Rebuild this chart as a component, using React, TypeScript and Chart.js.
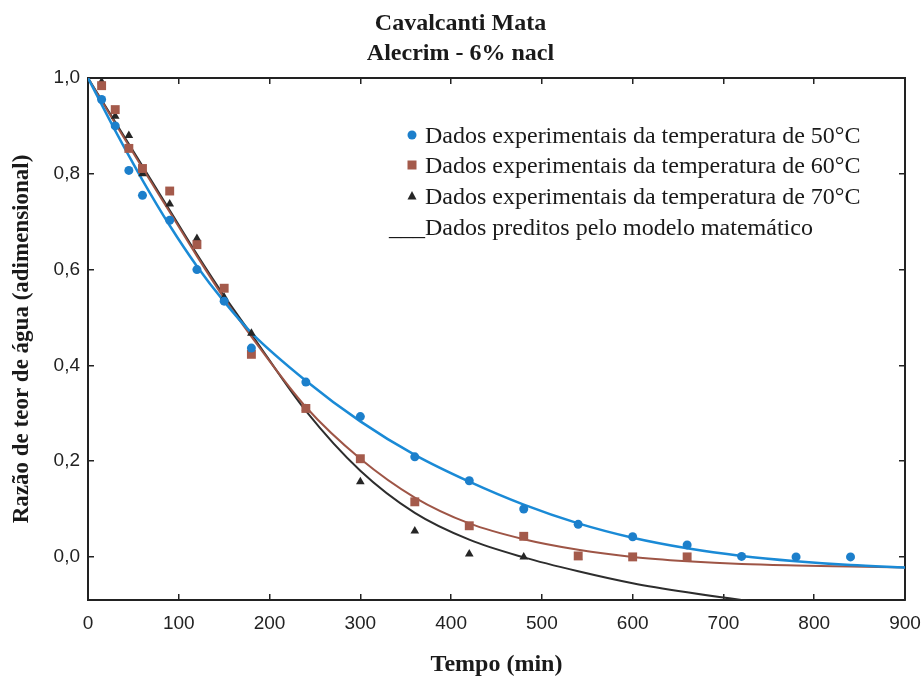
import React, { useEffect, useRef } from 'react';
import { Chart, registerables } from 'chart.js';

Chart.register(...registerables);

// ---- Data ----
const titleLines = ['Cavalcanti Mata', 'Alecrim - 6% nacl'];
const xAxisTitle = 'Tempo (min)';
const yAxisTitle = 'Razão de teor de água (adimensional)';

const seriesLabels = [
  'Dados experimentais da temperatura de 50°C',
  'Dados experimentais da temperatura de 60°C',
  'Dados experimentais da temperatura de 70°C',
  'Dados preditos pelo modelo matemático',
];

const times50 = [15, 30, 45, 60, 90, 120, 150, 180, 240, 300, 360, 420, 480, 540, 600, 660, 720, 780, 840];
const exp50 = [0.955, 0.9, 0.807, 0.755, 0.703, 0.6, 0.534, 0.436, 0.365, 0.293, 0.209, 0.159, 0.1, 0.068, 0.042, 0.025, 0.001, 0.0, 0.0];

const times60 = [15, 30, 45, 60, 90, 120, 150, 180, 240, 300, 360, 420, 480, 540, 600, 660];
const exp60 = [0.984, 0.934, 0.853, 0.811, 0.764, 0.652, 0.561, 0.423, 0.31, 0.205, 0.115, 0.065, 0.043, 0.002, 0.0, 0.0];

const times70 = [15, 30, 45, 60, 90, 120, 150, 180, 240, 300, 360, 420, 480, 540];
const exp70 = [0.992, 0.92, 0.88, 0.8, 0.737, 0.665, 0.542, 0.467, 0.31, 0.157, 0.054, 0.006, 0.0, 0.0];

const modelTimes = [0, 30, 60, 90, 120, 150, 180, 240, 300, 360, 420, 480, 540, 600, 660, 720, 780, 840, 900];
const model50 = [1.0, 0.89, 0.787, 0.692, 0.607, 0.533, 0.468, 0.368, 0.283, 0.213, 0.157, 0.109, 0.07, 0.04, 0.018, 0.002, -0.009, -0.017, -0.022];
const model60 = [1.0, 0.905, 0.812, 0.72, 0.628, 0.54, 0.46, 0.313, 0.205, 0.124, 0.07, 0.037, 0.015, 0.0, -0.009, -0.015, -0.018, -0.02, -0.022];
const model70 = [1.0, 0.908, 0.816, 0.724, 0.632, 0.545, 0.465, 0.305, 0.18, 0.092, 0.036, -0.001, -0.03, -0.055, -0.074, -0.09, -0.102, -0.11, -0.116];

const xTickValues = [0, 100, 200, 300, 400, 500, 600, 700, 800, 900];
const yTickValues = [0.0, 0.2, 0.4, 0.6, 0.8, 1.0];
const xMin = 0;
const xMax = 900;
const yMin = -0.09;
const yMax = 1.0;

// ---- Styles ----
const blue = '#1c7fcb';
const blueLine = '#1a8ad6';
const brown = '#a45a4b';
const brownLine = '#9e5546';
const black = '#262626';
const axisColor = '#222222';
const serif = '"Liberation Serif", "Times New Roman", serif';
const sans = '"Liberation Sans", Arial, sans-serif';

const pts = (xs: number[], ys: number[]) => xs.map((x, i) => ({ x, y: ys[i] }));

const legendPlugin = {
  id: 'paperLegend',
  afterDraw(chart: any) {
    const ctx = chart.ctx as CanvasRenderingContext2D;
    ctx.save();
    const markerX = 412;
    const textX = 425;
    const baselines = [143, 173, 204, 235];
    ctx.font = `24px ${serif}`;
    ctx.fillStyle = '#1a1a1a';
    ctx.textAlign = 'left';
    ctx.textBaseline = 'alphabetic';
    for (let i = 0; i < 3; i++) ctx.fillText(seriesLabels[i], textX, baselines[i]);
    ctx.fillText('___' + seriesLabels[3], 389, baselines[3]);

    // markers
    const c0 = baselines[0] - 8;
    ctx.fillStyle = blue;
    ctx.beginPath();
    ctx.arc(markerX, c0, 4.5, 0, Math.PI * 2);
    ctx.fill();

    const c1 = baselines[1] - 8;
    ctx.fillStyle = brown;
    ctx.fillRect(markerX - 4.5, c1 - 4.5, 9, 9);

    const c2 = baselines[2] - 8;
    ctx.fillStyle = black;
    ctx.beginPath();
    ctx.moveTo(markerX, c2 - 5);
    ctx.lineTo(markerX + 4.5, c2 + 3.5);
    ctx.lineTo(markerX - 4.5, c2 + 3.5);
    ctx.closePath();
    ctx.fill();
    ctx.restore();
  },
};

const setTicks = (values: number[]) => (scale: any) => {
  scale.ticks = values.map((v) => ({ value: v }));
};

export default function App() {
  const canvasRef = useRef<HTMLCanvasElement | null>(null);

  useEffect(() => {
    if (!canvasRef.current) return;
    const chart = new Chart(canvasRef.current, {
      type: 'scatter',
      data: {
        datasets: [
          {
            type: 'scatter',
            label: seriesLabels[0],
            data: pts(times50, exp50),
            pointStyle: 'circle',
            pointRadius: 4.5,
            backgroundColor: blue,
            borderColor: blue,
            borderWidth: 0,
          },
          {
            type: 'scatter',
            label: seriesLabels[1],
            data: pts(times60, exp60),
            pointStyle: 'rect',
            pointRadius: 6.3,
            backgroundColor: brown,
            borderColor: brown,
            borderWidth: 0,
          },
          {
            type: 'scatter',
            label: seriesLabels[2],
            data: pts(times70, exp70),
            pointStyle: 'triangle',
            pointRadius: 5,
            backgroundColor: black,
            borderColor: black,
            borderWidth: 0,
          },
          {
            type: 'line',
            label: seriesLabels[3] + ' 50°C',
            data: pts(modelTimes, model50),
            borderColor: blueLine,
            borderWidth: 2.5,
            pointRadius: 0,
            cubicInterpolationMode: 'monotone',
            fill: false,
          },
          {
            type: 'line',
            label: seriesLabels[3] + ' 60°C',
            data: pts(modelTimes, model60),
            borderColor: brownLine,
            borderWidth: 2,
            pointRadius: 0,
            cubicInterpolationMode: 'monotone',
            fill: false,
          },
          {
            type: 'line',
            label: seriesLabels[3] + ' 70°C',
            data: pts(modelTimes, model70),
            borderColor: '#2d2d2d',
            borderWidth: 2,
            pointRadius: 0,
            cubicInterpolationMode: 'monotone',
            fill: false,
          },
        ],
      },
      options: {
        responsive: false,
        animation: false,
        devicePixelRatio: 1,
        layout: { padding: { left: 0, right: 0, top: 0, bottom: 0 } },
        plugins: {
          legend: { display: false },
          tooltip: { enabled: false },
          title: {
            display: true,
            text: titleLines,
            color: '#1a1a1a',
            font: { family: serif, size: 24, weight: 'bold', lineHeight: 1.25 },
            padding: { top: 9, bottom: 9 },
          },
        },
        scales: {
          x: {
            type: 'linear',
            position: 'bottom',
            min: xMin,
            max: xMax,
            afterBuildTicks: setTicks(xTickValues),
            afterFit: (s: any) => {
              s.height = 82;
              s.paddingRight = 16;
              s.paddingLeft = 5;
            },
            grid: { drawOnChartArea: false, drawTicks: true, tickLength: -6, color: axisColor, lineWidth: 1.5 },
            border: { display: true, color: axisColor, width: 2 },
            ticks: {
              color: '#222',
              font: { family: sans, size: 19 },
              padding: 18,
              maxRotation: 0,
              autoSkip: false,
              callback: (v: any) => String(v),
            },
            title: {
              display: true,
              text: xAxisTitle,
              color: '#1a1a1a',
              font: { family: serif, size: 24, weight: 'bold' },
              padding: { top: 0, bottom: 3 },
            },
          },
          x2: {
            type: 'linear',
            position: 'top',
            min: xMin,
            max: xMax,
            afterBuildTicks: setTicks(xTickValues),
            afterFit: (s: any) => {
              s.height = 0;
              s.paddingRight = 0;
              s.paddingLeft = 0;
            },
            grid: { drawOnChartArea: false, drawTicks: true, tickLength: -6, color: axisColor, lineWidth: 1.5 },
            border: { display: true, color: axisColor, width: 2 },
            ticks: { display: false },
          },
          y: {
            type: 'linear',
            position: 'left',
            min: yMin,
            max: yMax,
            afterBuildTicks: setTicks(yTickValues),
            afterFit: (s: any) => {
              s.width = 88;
            },
            grid: { drawOnChartArea: false, drawTicks: true, tickLength: -6, color: axisColor, lineWidth: 1.5 },
            border: { display: true, color: axisColor, width: 2 },
            ticks: {
              color: '#222',
              font: { family: sans, size: 19 },
              padding: 14,
              autoSkip: false,
              callback: (v: any) => Number(v).toFixed(1).replace('.', ','),
            },
            title: {
              display: true,
              text: yAxisTitle,
              color: '#1a1a1a',
              font: { family: serif, size: 23, weight: 'bold' },
              padding: { top: 8, bottom: 0 },
            },
          },
          y2: {
            type: 'linear',
            position: 'right',
            min: yMin,
            max: yMax,
            afterBuildTicks: setTicks(yTickValues),
            afterFit: (s: any) => {
              s.width = 0;
            },
            grid: { drawOnChartArea: false, drawTicks: true, tickLength: -6, color: axisColor, lineWidth: 1.5 },
            border: { display: true, color: axisColor, width: 2 },
            ticks: { display: false },
          },
        },
      } as any,
      plugins: [legendPlugin],
    });
    return () => chart.destroy();
  }, []);

  return (
    <div style={{ position: 'fixed', left: 0, top: 0, width: 921, height: 682, background: '#ffffff' }}>
      <canvas ref={canvasRef} width={921} height={682} style={{ display: 'block' }} />
    </div>
  );
}
